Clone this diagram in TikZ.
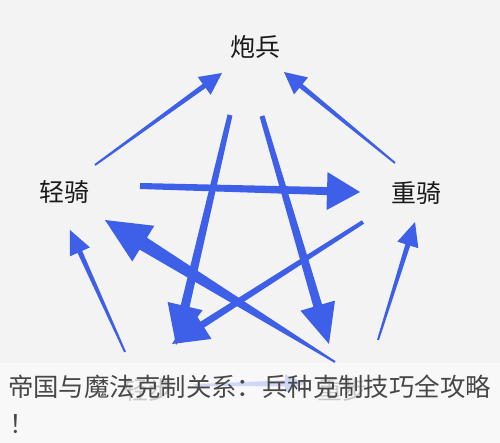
\documentclass[tikz,border=0pt]{standalone}
\usepackage{fontspec}
\setmainfont{Noto Sans CJK SC}
\usetikzlibrary{calc}
\definecolor{starblue}{RGB}{62,95,232}
\definecolor{paper}{RGB}{243,243,243}
\definecolor{band}{RGB}{250,250,250}
% tapered arrow: from, to, tail width, shaft width, head length, head width
\newcommand\beat[6]{%
  \coordinate (hb) at ($(#2)!#5!(#1)$);
  \fill [starblue] ($(#1)!#3/2!90:(#2)$) -- ($(hb)!#4/2!90:(#2)$) -- ($(hb)!#6/2!90:(#2)$)
    -- (#2) -- ($(hb)!#6/2!-90:(#2)$) -- ($(hb)!#4/2!-90:(#2)$) -- ($(#1)!#3/2!-90:(#2)$) -- cycle;}
\begin{document}
\begin{tikzpicture}[x=1pt,y=-1pt,
  unit/.style={font=\fontsize{25}{25}\selectfont, text=black!90, inner sep=0pt},
  capline/.style={font=\fontsize{25.4}{25.4}\selectfont, text=black!72, inner sep=0pt, anchor=west}]
\useasboundingbox (0,0) rectangle (500,443);
\fill [paper] (0,0) rectangle (500,443);
% unit names
\node [unit] (pao) at (255,47) {炮兵};
\node [unit] (qingqi) at (64,192) {轻骑};
\node [unit] (zhongqi) at (416,193) {重骑};
\node [unit] (qingbu) at (148,390) {轻步};
\node [unit] (zhongbu) at (342,390) {重步};
% arrow ends
\coordinate (a1) at (95,165);  \coordinate (b1) at (222,73);
\coordinate (a2) at (395,163); \coordinate (b2) at (284,72);
\coordinate (a3) at (140,186); \coordinate (b3) at (360,192);
\coordinate (a4) at (230,115); \coordinate (b4) at (176,345);
\coordinate (a5) at (262,116); \coordinate (b5) at (329,344);
\coordinate (a6) at (363,222); \coordinate (b6) at (172,344);
\coordinate (a7) at (335,362); \coordinate (b7) at (105,220);
\coordinate (a8) at (125,352); \coordinate (b8) at (70,230);
\coordinate (a9) at (378,340); \coordinate (b9) at (415,222);
\coordinate (a10) at (195,385); \coordinate (b10) at (305,383);
\beat{a1}{b1}{2pt}{5pt}{22pt}{22pt}
\beat{a2}{b2}{2pt}{5pt}{22pt}{22pt}
\beat{a3}{b3}{6pt}{8pt}{33pt}{38pt}
\beat{a4}{b4}{5pt}{9pt}{40pt}{36pt}
\beat{a5}{b5}{5pt}{9pt}{40pt}{36pt}
\beat{a6}{b6}{4pt}{7pt}{36pt}{34pt}
\beat{a7}{b7}{2pt}{14pt}{45pt}{42pt}
\beat{a8}{b8}{2pt}{5pt}{24pt}{22pt}
\beat{a9}{b9}{2pt}{5pt}{24pt}{22pt}
\beat{a10}{b10}{2pt}{6pt}{20pt}{18pt}
% caption band
\fill [band, opacity=0.78] (0,363) rectangle (500,443);
\node [capline] (caption) at (8,387) {帝国与魔法克制关系：兵种克制技巧全攻略};
\node [capline] (bang) at (9,424) {！};
\end{tikzpicture}
\end{document}
